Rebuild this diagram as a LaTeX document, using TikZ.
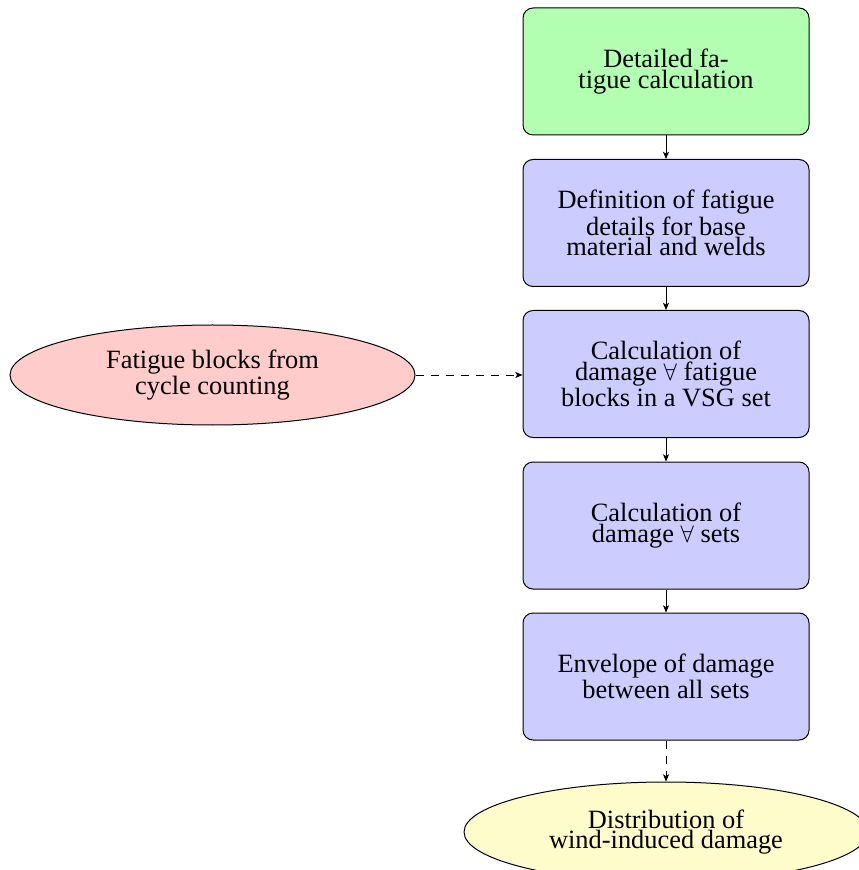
\documentclass[tikz,border=0pt]{standalone}
\usepackage{fontspec}
\setmainfont{Liberation Serif}
\usetikzlibrary{shapes.geometric,arrows.meta}

\begin{document}
\begin{tikzpicture}[x=0.5pt,y=-0.5pt,
  every node/.style={font=\fontsize{13.2}{10.2}\selectfont, align=center},
  block/.style={draw, rounded corners=5pt, minimum width=143pt, minimum height=63.5pt, inner sep=0pt, line width=0.5pt},
  startbox/.style={block, fill=green!30},
  stepbox/.style={block, fill=blue!20},
  inputell/.style={draw, ellipse, fill=red!20, minimum width=202.5pt, minimum height=50pt, inner sep=0pt, line width=0.5pt},
  outputell/.style={draw, ellipse, fill=yellow!20, minimum width=202pt, minimum height=50pt, inner sep=0pt, line width=0.5pt},
  flow/.style={-{Stealth[length=3.6pt,width=3pt,inset=0.9pt]}, line width=0.4pt},
  dflow/.style={flow, dash pattern=on 4pt off 3.5pt}
]
\useasboundingbox (0,0) rectangle (858,870);

\node[startbox] (calc) at (666,71.5) {Detailed fa-\\tigue calculation};
\node[stepbox] (details) at (666,223) {Definition of fatigue\\details for base\\material and welds};
\node[stepbox] (blocks) at (666,374) {Calculation of\\damage $\forall$ fatigue\\blocks in a VSG set};
\node[stepbox] (sets) at (666,525.5) {Calculation of\\damage $\forall$ sets};
\node[stepbox] (envelope) at (666,676.5) {Envelope of damage\\between all sets};
\node[inputell] (cycles) at (212.5,375) {Fatigue blocks from\\cycle counting};
\node[outputell] (dist) at (666,832) {Distribution of\\wind-induced damage};

\draw[flow] (calc) -- (details);
\draw[flow] (details) -- (blocks);
\draw[flow] (blocks) -- (sets);
\draw[flow] (sets) -- (envelope);
\draw[dflow] (cycles.east) -- (blocks.west |- cycles.east);
\draw[dflow] (envelope) -- (dist);
\end{tikzpicture}
\end{document}
